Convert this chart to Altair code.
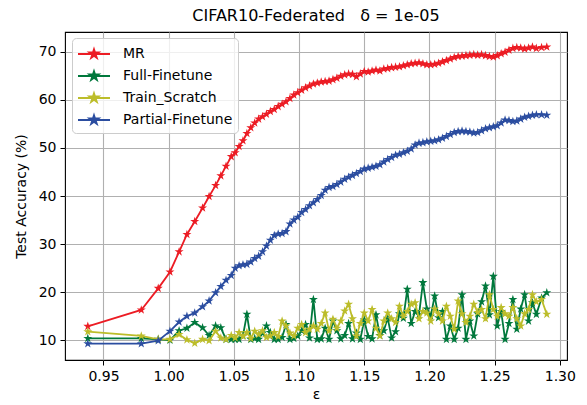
import altair as alt
import pandas as pd

# shared epsilon values (x)
eps = [0.938, 0.979, 0.992, 1.001, 1.008, 1.014, 1.020, 1.026, 1.031, 1.036, 1.040, 1.044, 1.048,
       1.051, 1.054, 1.057, 1.060, 1.063, 1.066, 1.069, 1.072, 1.075, 1.078,
       1.081, 1.084, 1.087, 1.090, 1.093, 1.096, 1.099, 1.102, 1.105, 1.108,
       1.111, 1.114, 1.117, 1.120, 1.123, 1.126, 1.129, 1.132, 1.135, 1.138,
       1.141, 1.144, 1.147, 1.150, 1.153, 1.156, 1.159, 1.162, 1.165, 1.168,
       1.171, 1.174, 1.177, 1.180, 1.183, 1.186, 1.189, 1.192, 1.195, 1.198,
       1.201, 1.204, 1.207, 1.210, 1.213, 1.216, 1.219, 1.222, 1.225, 1.228,
       1.231, 1.234, 1.237, 1.240, 1.243, 1.246, 1.249, 1.252, 1.255, 1.258,
       1.261, 1.264, 1.267, 1.270, 1.273, 1.276, 1.279, 1.282, 1.286, 1.290]

mr = [12.9, 16.3, 20.8, 24.2, 28.4, 32.0, 34.7, 37.5, 39.9, 42.2, 44.2, 46.2, 48.2,
      49.0, 50.3, 51.5, 53.0, 54.2, 55.2, 56.0, 56.5, 57.0, 57.6,
      58.0, 58.6, 59.1, 59.6, 60.3, 61.0, 61.5, 62.0, 62.5, 62.9,
      63.3, 63.5, 63.7, 63.8, 63.9, 64.2, 64.5, 64.9, 65.2, 65.4,
      65.3, 64.8, 65.4, 65.9, 65.8, 66.0, 66.2, 66.0, 66.4, 66.5,
      66.7, 66.8, 66.9, 67.1, 67.3, 67.5, 67.6, 67.7, 67.5, 67.3,
      67.3, 67.4, 67.6, 67.9, 68.2, 68.5, 68.8, 69.0, 69.1, 69.2,
      69.3, 69.4, 69.3, 69.4, 69.2, 69.0, 68.9, 69.2, 69.6, 69.9,
      70.3, 70.7, 70.9, 70.8, 70.6, 70.8, 71.0, 70.7, 70.9, 71.0]

full = [10.4, 10.4, 10.2, 10.0, 12.0, 12.5, 13.7, 12.6, 11.0, 13.0, 12.6, 10.2, 10.2,
        10.2, 10.2, 11.0, 15.4, 10.2, 10.4, 10.2, 11.5, 13.0, 11.6,
        10.2, 10.2, 10.6, 13.3, 10.2, 10.4, 10.9, 12.0, 13.3, 10.5,
        18.5, 10.2, 10.3, 12.5, 10.2, 14.0, 12.0, 10.3, 11.0, 13.5,
        10.3, 11.5, 10.2, 14.2, 10.8, 10.3, 15.3, 11.0, 12.0, 14.6,
        10.5, 11.8, 15.5, 14.6, 20.6, 13.5, 16.0, 15.3, 22.0, 16.5,
        15.0, 19.2, 14.7, 16.0, 10.2, 13.0, 10.2, 12.5, 19.5, 10.2,
        14.0, 10.9, 15.5, 18.0, 21.3, 15.3, 23.3, 13.0, 16.0, 10.2,
        13.5, 18.5, 12.3, 16.5, 19.5, 14.0, 17.8, 15.4, 18.8, 19.9]

scratch = [11.8, 10.9, 10.2, 10.2, 11.2, 10.1, 9.4, 10.2, 9.9, 11.9, 10.5, 10.2, 11.0,
           10.5, 11.6, 10.8, 11.6, 10.4, 11.9, 11.2, 12.0, 10.6, 10.9,
           11.6, 10.8, 14.0, 13.0, 11.5, 10.9, 12.5, 13.3, 11.6, 12.3,
           13.0, 12.3, 13.5, 15.7, 12.0, 14.4, 12.5, 14.0, 16.1, 17.5,
           14.5, 10.9, 13.5, 15.7, 14.0, 16.4, 12.5, 10.9, 14.0, 15.7,
           14.5, 13.7, 17.1, 15.0, 16.0, 17.5, 17.8, 14.5, 16.0, 15.7,
           14.0, 16.5, 15.5, 14.0, 17.1, 15.0, 12.3, 18.2, 15.5, 13.7,
           15.0, 17.5, 15.8, 16.4, 14.5, 19.5, 16.4, 15.0, 16.8, 15.5,
           15.0, 16.8, 14.5, 13.0, 15.5, 16.4, 19.5, 18.0, 18.5, 15.4]

partial = [9.3, 9.3, 9.9, 11.9, 13.8, 15.0, 15.7, 17.0, 18.2, 19.9, 21.2, 22.5, 23.5,
           25.0, 25.5, 25.7, 25.8, 26.3, 27.0, 27.5, 28.4, 29.6, 30.8,
           31.8, 32.1, 32.2, 32.6, 34.2, 35.0, 35.6, 36.6, 37.2, 38.0,
           38.6, 39.3, 40.1, 41.2, 41.8, 42.0, 42.4, 42.9, 43.5, 43.9,
           44.3, 44.7, 45.1, 45.6, 45.8, 46.0, 46.2, 46.5, 47.1, 47.6,
           48.0, 48.5, 48.7, 49.0, 49.3, 49.8, 50.6, 51.0, 51.1, 51.3,
           51.4, 51.5, 51.7, 52.0, 52.4, 52.8, 53.2, 53.4, 53.5, 53.4,
           53.3, 53.1, 53.2, 53.6, 54.0, 54.2, 54.4, 54.6, 55.2, 55.8,
           55.7, 55.5, 55.6, 56.0, 56.4, 56.6, 56.8, 56.9, 56.9, 56.8]

methods = ["MR", "Full-Finetune", "Train_Scratch", "Partial-Finetune"]
colors = ["#ec1c24", "#00783c", "#bcbd2a", "#2b4da0"]
x_ticks = [0.95, 1.00, 1.05, 1.10, 1.15, 1.20, 1.25, 1.30]
y_ticks = [10, 20, 30, 40, 50, 60, 70]

rows = []
for m, vals in zip(methods, [mr, full, scratch, partial]):
    for e, v in zip(eps, vals):
        rows.append({"eps": e, "acc": v, "method": m})
df = pd.DataFrame(rows)

STAR = ("M0,-1L0.2245,-0.309L0.951,-0.309L0.363,0.118L0.588,0.809L0,0.382"
        "L-0.588,0.809L-0.363,0.118L-0.951,-0.309L-0.2245,-0.309Z")
LEG = ("M-1.6,0L1.6,0M0,-0.45L0.101,-0.139L0.428,-0.139L0.163,0.053L0.265,0.364"
       "L0,0.172L-0.265,0.364L-0.163,0.053L-0.428,-0.139L-0.101,-0.139Z")

xs = alt.Scale(domain=[0.9205, 1.3055], nice=False, zero=False)
ys = alt.Scale(domain=[5.9, 74.1], nice=False, zero=False)
cs = alt.Scale(domain=methods, range=colors)

legend = alt.Legend(title=None, orient="none", legendX=7, legendY=6,
                    symbolType=LEG, symbolSize=400, symbolStrokeWidth=2,
                    symbolOffset=6, labelOffset=18,
                    labelFontSize=14, labelFont="DejaVu Sans", labelColor="black",
                    fillColor="rgba(255,255,255,0.8)", strokeColor="#cccccc",
                    cornerRadius=4, padding=5, rowPadding=3)

xenc = alt.X("eps:Q", scale=xs, title="ε",
             axis=alt.Axis(values=x_ticks, format=".2f", titlePadding=4))
yenc = alt.Y("acc:Q", scale=ys, title="Test Accuracy (%)",
             axis=alt.Axis(values=y_ticks, titlePadding=10))
cenc = alt.Color("method:N", scale=cs, sort=methods, legend=legend)

layers = []
for m in methods:
    base = alt.Chart(df).transform_filter(alt.datum.method == m)
    layers.append(base.mark_line(strokeWidth=1.8).encode(x=xenc, y=yenc, color=cenc))
    layers.append(base.mark_point(shape=STAR, filled=True, size=90, opacity=1)
                  .encode(x=xenc, y=yenc, color=cenc))

title_text = "CIFAR10-Federated\u00a0\u00a0\u00a0δ = 1e-05"

chart = alt.layer(*layers).properties(
    width=502, height=328,
    title=alt.Title(title_text, fontSize=16, font="DejaVu Sans",
                    fontWeight="normal", color="black", offset=8),
    autosize=alt.AutoSizeParams(type="none"),
    padding={"left": 65, "top": 32, "right": 20, "bottom": 45},
    background="white",
).configure_view(stroke="black", strokeWidth=1.1).configure_axis(
    grid=True, gridColor="#b0b0b0", gridWidth=1.1, domain=False,
    ticks=True, tickColor="black", tickSize=5, tickWidth=1,
    labelFont="DejaVu Sans", labelFontSize=14, labelColor="black",
    titleFont="DejaVu Sans", titleFontSize=14, titleFontWeight="normal", titleColor="black",
    labelPadding=4,
)

chart.save("out.html", embed_options={"renderer": "svg", "actions": False})
